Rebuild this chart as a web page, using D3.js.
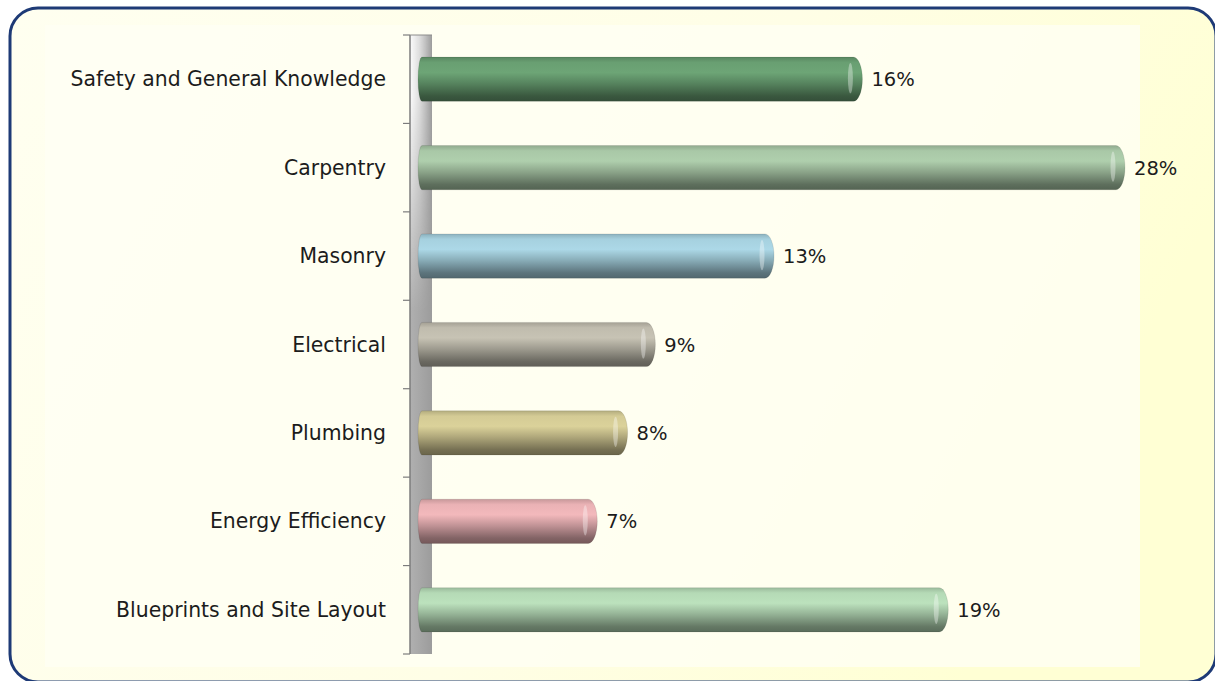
<!DOCTYPE html>
<html>
<head>
<meta charset="utf-8">
<script src="https://cdn.jsdelivr.net/npm/d3@7"></script>
<style>
  html, body { margin: 0; padding: 0; background: #ffffff; }
  svg { display: block; }
</style>
</head>
<body>
<div id="chart"></div>
<script>
const categories = [
  "Safety and General Knowledge",
  "Carpentry",
  "Masonry",
  "Electrical",
  "Plumbing",
  "Energy Efficiency",
  "Blueprints and Site Layout"
];
// bar lengths as drawn and the printed labels
const barValues = [17.6, 28, 14.1, 9.4, 8.3, 7.1, 21.0];
const valueLabels = ["16%", "28%", "13%", "9%", "8%", "7%", "19%"];
const barColors = ["#679c70", "#a6c4a4", "#a3cddb", "#bdb9ab", "#d0c792", "#e6afb2", "#b2d6b3"];

const W = 1215, H = 681;
const WALL_X = 410, WALL_W = 22;
const PLOT_TOP = 35, PLOT_BOTTOM = 654;

const svg = d3.select("#chart")
  .append("svg")
  .attr("width", W)
  .attr("height", H);
const defs = svg.append("defs");

// backgrounds
const bgGrad = defs.append("linearGradient")
  .attr("id", "bg")
  .attr("x1", 0).attr("y1", 0).attr("x2", 1).attr("y2", 0.3);
bgGrad.append("stop").attr("offset", 0).attr("stop-color", "#fffff0");
bgGrad.append("stop").attr("offset", 0.6).attr("stop-color", "#fffee6");
bgGrad.append("stop").attr("offset", 1).attr("stop-color", "#ffffd4");

svg.append("rect")
  .attr("x", 10).attr("y", 8)
  .attr("width", 1206).attr("height", 674)
  .attr("rx", 28)
  .attr("fill", "url(#bg)")
  .attr("stroke", "#1e3a76")
  .attr("stroke-width", 3);

svg.append("rect")
  .attr("x", 45).attr("y", 25)
  .attr("width", 1095).attr("height", 642)
  .attr("fill", "#fffff4")
  .attr("opacity", 0.8);

const y = d3.scaleBand()
  .domain(categories)
  .range([PLOT_TOP, PLOT_BOTTOM])
  .paddingInner(0.5)
  .paddingOuter(0.25);

const x = d3.scaleLinear()
  .domain([0, 30])
  .range([418, 418 + 30 * 25.25]);

// wall behind bars
const wallGrad = defs.append("linearGradient")
  .attr("id", "wallGrad")
  .attr("x1", 0).attr("y1", 0).attr("x2", 1).attr("y2", 0);
wallGrad.append("stop").attr("offset", 0).attr("stop-color", "#b0b0b0");
wallGrad.append("stop").attr("offset", 1).attr("stop-color", "#9c9c9c");

const wallShine = defs.append("linearGradient")
  .attr("id", "wallShine")
  .attr("x1", 0).attr("y1", 0).attr("x2", 1).attr("y2", 0);
wallShine.append("stop").attr("offset", 0).attr("stop-color", "#ffffff").attr("stop-opacity", 0.95);
wallShine.append("stop").attr("offset", 0.45).attr("stop-color", "#ffffff").attr("stop-opacity", 0.6);
wallShine.append("stop").attr("offset", 1).attr("stop-color", "#ffffff").attr("stop-opacity", 0);

const fadeGrad = defs.append("linearGradient")
  .attr("id", "fade")
  .attr("x1", 0).attr("y1", 0).attr("x2", 0).attr("y2", 1);
fadeGrad.append("stop").attr("offset", 0).attr("stop-color", "#fff");
fadeGrad.append("stop").attr("offset", 0.1).attr("stop-color", "#fff");
fadeGrad.append("stop").attr("offset", 0.45).attr("stop-color", "#000");
defs.append("mask")
  .attr("id", "wallMask")
  .append("rect")
  .attr("x", WALL_X).attr("y", PLOT_TOP)
  .attr("width", WALL_W).attr("height", PLOT_BOTTOM - PLOT_TOP)
  .attr("fill", "url(#fade)");

const wall = svg.append("g");
wall.append("rect")
  .attr("x", WALL_X).attr("y", PLOT_TOP)
  .attr("width", WALL_W).attr("height", PLOT_BOTTOM - PLOT_TOP)
  .attr("fill", "url(#wallGrad)");
wall.append("rect")
  .attr("x", WALL_X).attr("y", PLOT_TOP)
  .attr("width", WALL_W).attr("height", PLOT_BOTTOM - PLOT_TOP)
  .attr("fill", "url(#wallShine)")
  .attr("mask", "url(#wallMask)");
wall.append("line")
  .attr("x1", WALL_X).attr("x2", WALL_X)
  .attr("y1", PLOT_TOP).attr("y2", PLOT_BOTTOM)
  .attr("stroke", "#7c7c7c").attr("stroke-width", 1.5);
wall.append("line")
  .attr("x1", WALL_X).attr("x2", WALL_X + WALL_W)
  .attr("y1", PLOT_TOP).attr("y2", PLOT_TOP)
  .attr("stroke", "#8c8c8c");

// tick marks on band boundaries
const tickYs = categories
  .map(c => y(c) - y.step() * y.paddingInner() / 2)
  .concat([PLOT_BOTTOM]);
wall.selectAll("line.tick")
  .data(tickYs)
  .join("line")
  .attr("class", "tick")
  .attr("x1", WALL_X - 7).attr("x2", WALL_X)
  .attr("y1", d => d).attr("y2", d => d)
  .attr("stroke", "#7c7c7c").attr("stroke-width", 1.2);

// bar gradients
barColors.forEach((c, i) => {
  const base = d3.color(c);
  const g = defs.append("linearGradient")
    .attr("id", "bar" + i)
    .attr("x1", 0).attr("y1", 0).attr("x2", 0).attr("y2", 1);
  g.append("stop").attr("offset", 0).attr("stop-color", base.darker(0.4));
  g.append("stop").attr("offset", 0.12).attr("stop-color", base.brighter(0.05));
  g.append("stop").attr("offset", 0.35).attr("stop-color", base.brighter(0.15));
  g.append("stop").attr("offset", 0.6).attr("stop-color", base.darker(0.5));
  g.append("stop").attr("offset", 0.88).attr("stop-color", base.darker(1.6));
  g.append("stop").attr("offset", 1).attr("stop-color", base.darker(1.9));
});

const CAP = 9;
const barPath = d => {
  const x0 = x(0), x1 = x(d.value);
  const y0 = y(d.name), h = y.bandwidth();
  return `M${x0 + 4},${y0}
    L${x1 - CAP},${y0}
    A${CAP},${h / 2} 0 0 1 ${x1 - CAP},${y0 + h}
    L${x0 + 4},${y0 + h}
    A4,${h / 2} 0 0 1 ${x0 + 4},${y0}Z`;
};

const rows = categories.map((name, i) => ({
  name,
  value: barValues[i],
  label: valueLabels[i],
  idx: i
}));

const bars = svg.append("g")
  .selectAll("g")
  .data(rows)
  .join("g");

bars.append("path")
  .attr("d", barPath)
  .attr("fill", d => `url(#bar${d.idx})`)
  .attr("stroke", "#000")
  .attr("stroke-opacity", 0.12)
  .attr("stroke-width", 0.8);

// rim of the cylinder end
bars.append("ellipse")
  .attr("cx", d => x(d.value) - CAP - 3)
  .attr("cy", d => y(d.name) + y.bandwidth() / 2 - 1)
  .attr("rx", 2.5)
  .attr("ry", y.bandwidth() / 2 - 7)
  .attr("fill", "#ffffff")
  .attr("opacity", 0.35);

// category labels
svg.append("g")
  .selectAll("text")
  .data(categories)
  .join("text")
  .attr("x", 386)
  .attr("y", d => y(d) + y.bandwidth() / 2)
  .attr("dy", "0.35em")
  .attr("text-anchor", "end")
  .attr("font-family", "'DejaVu Sans', sans-serif")
  .attr("font-size", 20.4)
  .attr("fill", "#1c1c1c")
  .text(d => d);

// value labels
bars.append("text")
  .attr("x", d => x(d.value) + 9)
  .attr("y", d => y(d.name) + y.bandwidth() / 2)
  .attr("dy", "0.36em")
  .attr("font-family", "'DejaVu Sans', sans-serif")
  .attr("font-size", 19.5)
  .attr("fill", "#1c1c1c")
  .text(d => d.label);
</script>
</body>
</html>
